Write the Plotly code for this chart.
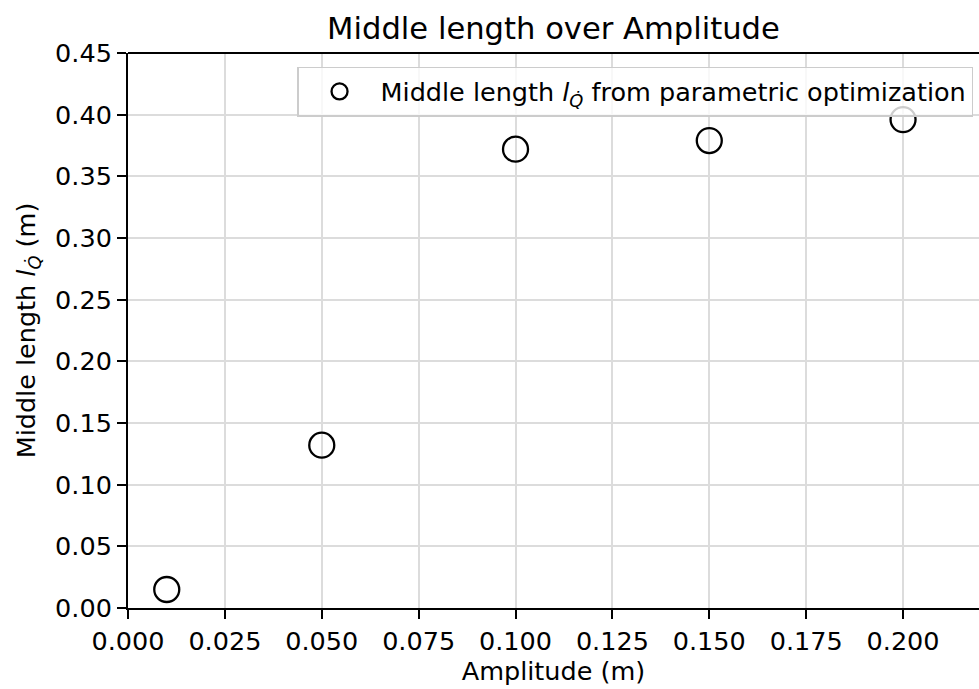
import plotly.graph_objects as go

amplitude = [0.01, 0.05, 0.10, 0.15, 0.20]
middle_length = [0.015, 0.132, 0.372, 0.379, 0.396]
x_ticks = [0.0, 0.025, 0.05, 0.075, 0.1, 0.125, 0.15, 0.175, 0.2]
x_tick_labels = ["0.000", "0.025", "0.050", "0.075", "0.100", "0.125", "0.150", "0.175", "0.200"]
y_ticks = [0.0, 0.05, 0.1, 0.15, 0.2, 0.25, 0.3, 0.35, 0.4, 0.45]
y_tick_labels = ["0.00", "0.05", "0.10", "0.15", "0.20", "0.25", "0.30", "0.35", "0.40", "0.45"]

sym = "<i>l</i><sub><i>Q\u0307</i></sub>"

FS = 25.5
fig = go.Figure()
fig.add_trace(go.Scatter(
    x=amplitude, y=middle_length, mode="markers",
    name="Middle length " + sym + " from parametric optimization",
    marker=dict(symbol="circle-open", size=25, color="black", line=dict(width=2.3, color="black")),
))

font = "DejaVu Sans, Verdana, sans-serif"
fig.update_layout(
    width=979, height=689,
    margin=dict(l=128, r=0, t=53, b=81),
    paper_bgcolor="white", plot_bgcolor="white",
    font=dict(family=font, size=FS, color="black"),
    title=dict(text="Middle length over Amplitude", x=(128 + 979) / 2 / 979, xanchor="center",
               y=1 - 28 / 689, yanchor="middle", font=dict(size=FS * 1.2)),
    showlegend=True,
    legend=dict(x=0.993, xanchor="right", y=0.975, yanchor="top",
                bgcolor="rgba(255,255,255,0.8)", bordercolor="#cccccc", borderwidth=1.5,
                itemwidth=72, font=dict(size=FS)),
    xaxis=dict(range=[0, 0.2196], tickvals=x_ticks, ticktext=x_tick_labels,
               showgrid=True, gridcolor="#dcdcdc", gridwidth=2,
               showline=True, linecolor="black", linewidth=2, mirror=False,
               ticks="outside", ticklen=9, tickwidth=2, tickcolor="black",
               zeroline=False,
               title=dict(text="Amplitude (m)", standoff=6, font=dict(size=FS))),
    yaxis=dict(range=[0, 0.45], tickvals=y_ticks, ticktext=y_tick_labels,
               showgrid=True, gridcolor="#dcdcdc", gridwidth=2,
               showline=True, linecolor="black", linewidth=2,
               ticks="outside", ticklen=9, tickwidth=2, tickcolor="black",
               zeroline=False,
               title=dict(text="Middle length " + sym + " (m)", standoff=12, font=dict(size=FS))),
)
# top spine
fig.add_shape(type="line", xref="paper", yref="paper", x0=0, x1=1, y0=1, y1=1,
              line=dict(color="black", width=2))

fig.write_html("out.html")
